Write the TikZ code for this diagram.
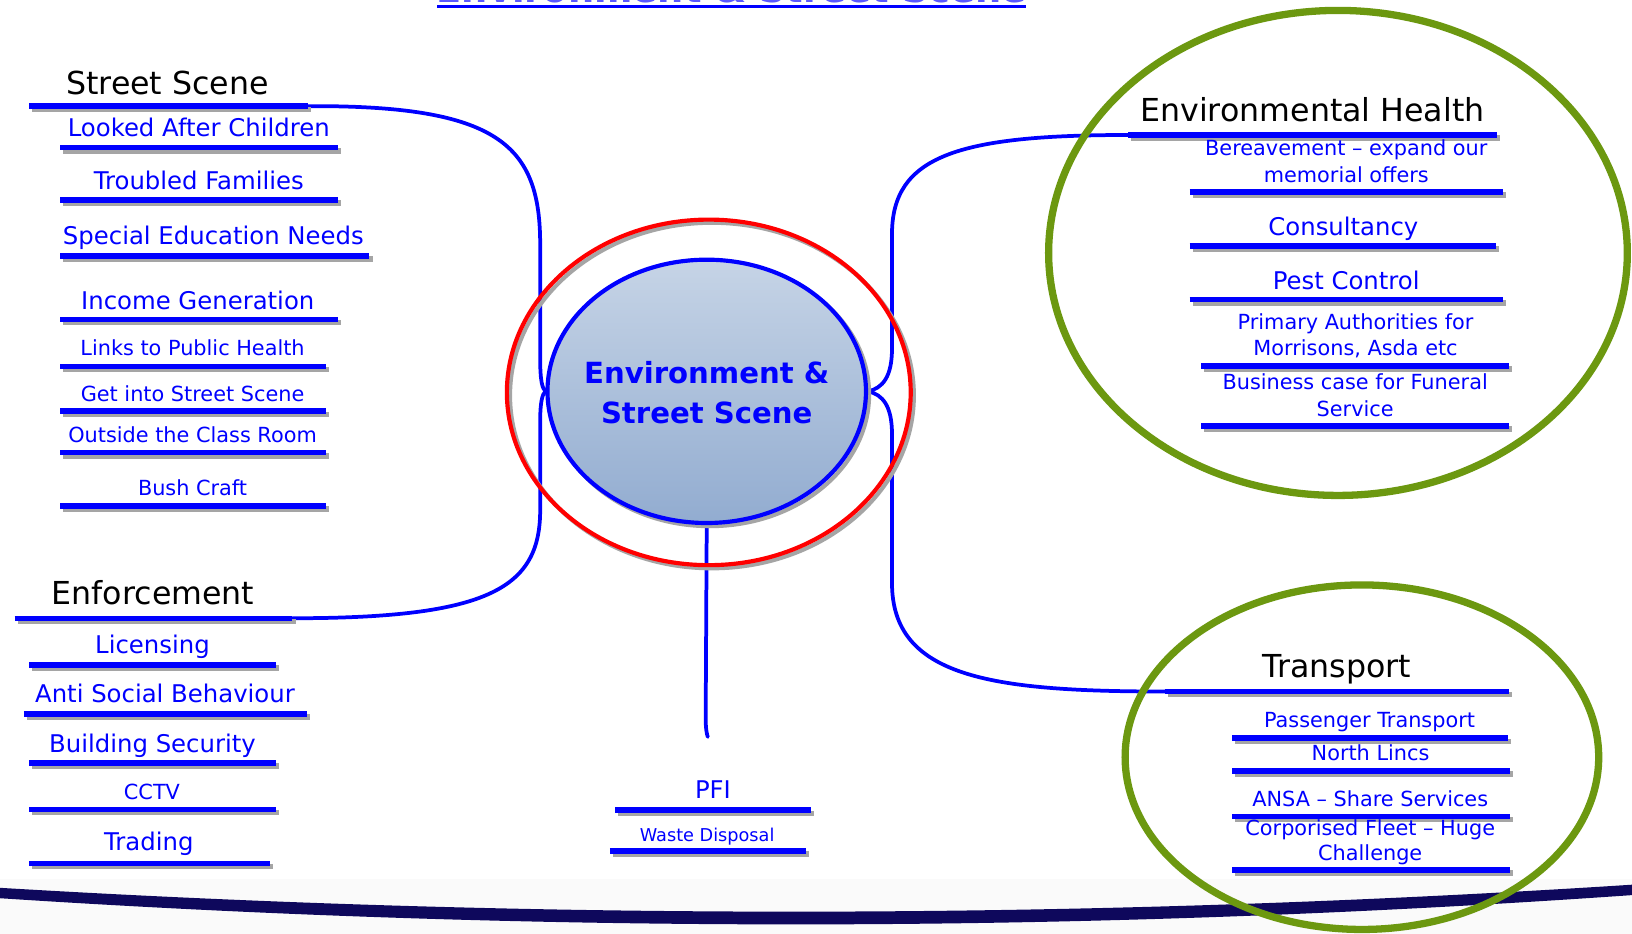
\documentclass[tikz,border=0pt]{standalone}
\usepackage{fontspec}
\setmainfont{DejaVu Sans}
\usetikzlibrary{shapes.geometric,backgrounds}
\definecolor{ublue}{RGB}{0,0,255}
\definecolor{ringgreen}{RGB}{108,152,16}
\definecolor{swooshc}{RGB}{14,8,92}
\definecolor{shgray}{RGB}{165,165,165}
\definecolor{ellTop}{RGB}{198,212,230}
\definecolor{ellBot}{RGB}{146,172,208}
\tikzset{
  hdr/.style={anchor=base, font=\fontsize{15.2}{18}\selectfont, text=black, inner sep=0pt},
  itm/.style={anchor=base, font=\fontsize{11.7}{14}\selectfont, text=ublue, inner sep=0pt},
  sml/.style={anchor=base, font=\fontsize{10}{12}\selectfont, text=ublue, inner sep=0pt},
  tiny/.style={anchor=base, font=\fontsize{8.5}{10}\selectfont, text=ublue, inner sep=0pt},
  ul/.style={line width=2.6pt, ublue},
  ulsh/.style={line width=2.6pt, shgray},
  conn/.style={line width=1.8pt, ublue, line cap=round},
  ring/.style={line width=3.5pt, ringgreen},
}
\newcommand{\ULine}[3]{\draw[ulsh] (#1+3,#3+3) -- (#2+3,#3+3); \draw[ul] (#1,#3) -- (#2,#3);}
\begin{document}
\begin{tikzpicture}[x=0.5pt,y=-0.5pt]
\useasboundingbox (0,0) rectangle (1568,897);
% title (clipped at top edge)
\node[anchor=base, font=\bfseries\fontsize{17.7}{20}\selectfont, text=ublue!65, inner sep=0pt] (title) at (703,2.5) {Environment \& Street Scene};
\draw[line width=1.6pt, ublue] (420,6) -- (986,6);

% centre
\node[ellipse, draw=ublue, line width=2pt, top color=ellTop, bottom color=ellBot, minimum width=153pt, minimum height=126.5pt, inner sep=0pt] (c) at (679,376) {};
\node[font=\bfseries\fontsize{14}{19}\selectfont, text=ublue, align=center] (ct) at (679,377) {Environment \&\\Street Scene};

% Street Scene
\node[hdr] (ss) at (161,91) {Street Scene};
\ULine{28}{296}{102}
\coordinate (ssR) at (296,102);
\node[itm] (lac) at (191,131) {Looked After Children}; \ULine{58}{325}{142}
\node[itm] (tf) at (191,182) {Troubled Families}; \ULine{58}{325}{192}
\node[itm] (sen) at (205,235) {Special Education Needs}; \ULine{58}{355}{246}
\node[itm] (ig) at (190,297) {Income Generation}; \ULine{58}{325}{307}
\node[sml] (lph) at (185,342) {Links to Public Health}; \ULine{58}{313}{352}
\node[sml] (gss) at (185,386) {Get into Street Scene}; \ULine{58}{313}{395}
\node[sml] (ocr) at (185,425) {Outside the Class Room}; \ULine{58}{313}{435}
\node[sml] (bc) at (185,476) {Bush Craft}; \ULine{58}{313}{486}

% Enforcement
\node[hdr] (en) at (147,581) {Enforcement};
\ULine{14}{281}{594}
\coordinate (enR) at (281,594);
\node[itm] (lic) at (146.5,628) {Licensing}; \ULine{28}{265}{639}
\node[itm] (asb) at (158.5,675) {Anti Social Behaviour}; \ULine{23}{295}{686}
\node[itm] (bs) at (146.5,723) {Building Security}; \ULine{28}{265}{733}
\node[sml] (cctv) at (146,768.6) {CCTV}; \ULine{28}{265}{777.6}
\node[itm] (tr) at (143,817) {Trading}; \ULine{28}{259}{829.5}

% PFI
\node[itm] (pfi) at (685,767) {PFI}; \ULine{591}{779}{778.4}
\node[tiny] (wd) at (679.4,808.7) {Waste Disposal}; \ULine{586}{774}{817.5}
\coordinate (stemEnd) at (680,708);

% Environmental Health
\node[hdr] (eh) at (1261,117) {Environmental Health};
\ULine{1084}{1438}{129.7}
\coordinate (ehL) at (1084,129.7);
\node[sml] (ber1) at (1293.5,149.6) {Bereavement – expand our};
\node[sml] (ber2) at (1293.5,175.2) {memorial offers};
\ULine{1143}{1444}{184.3}
\node[itm] (cons) at (1290.7,226.4) {Consultancy}; \ULine{1143}{1437}{236.2}
\node[itm] (pest) at (1293.4,278) {Pest Control}; \ULine{1143}{1444}{288}
\node[sml] (pa1) at (1302.4,316.4) {Primary Authorities for};
\node[sml] (pa2) at (1302.4,342) {Morrisons, Asda etc};
\ULine{1154}{1450}{351.5}
\node[sml] (bf1) at (1302,374) {Business case for Funeral};
\node[sml] (bf2) at (1302,399.7) {Service};
\ULine{1154}{1450}{409.1}

% Transport
\node[hdr] (tp) at (1284.3,650.8) {Transport};
\ULine{1119}{1450}{664.4}
\coordinate (tL) at (1119,664.4);
\node[sml] (pt) at (1315.8,698.8) {Passenger Transport}; \ULine{1184}{1449}{709.2}
\node[sml] (nl) at (1316.8,730.9) {North Lincs}; \ULine{1184}{1451}{740.6}
\node[sml] (ansa) at (1316.5,775) {ANSA – Share Services}; \ULine{1184}{1451}{784.5}
\node[sml] (cf1) at (1316.5,803.2) {Corporised Fleet – Huge};
\node[sml] (cf2) at (1316.5,827) {Challenge};
\ULine{1184}{1451}{835.7}

% green rings
\draw[ring] (1285.5,243) ellipse [x radius=139pt, y radius=116.5pt];
\draw[ring] (1308.5,727.5) ellipse [x radius=113.75pt, y radius=82.75pt];

\begin{pgfonlayer}{background}
  \fill[white] (0,0) rectangle (1568,897);
  \fill[gray!4] (0,845) rectangle (1568,897);
  \fill[swooshc] (0,853) .. controls (520,884) and (1040,884) .. (1568,850) -- (1568,860) .. controls (1040,897) and (520,897) .. (0,863) -- cycle;
  % connectors
  \draw[conn] (ssR) .. controls (480,101) and (519,140) .. (519,235) -- (519,345) .. controls (519,366) and (521,373) .. (c.west);
  \draw[conn] (enR) .. controls (470,594) and (519,565) .. (519,490) -- (519,405) .. controls (519,386) and (521,379) .. (c.west);
  \draw[conn] (c.east) .. controls (848,373) and (857,362) .. (857,335) -- (857,225) .. controls (857,150) and (920,129.7) .. (ehL);
  \draw[conn] (c.east) .. controls (848,379) and (857,390) .. (857,417) -- (857,560) .. controls (857,650) and (950,664.4) .. (tL);
  \draw[conn] (c.south) -- (678,690) .. controls (678,700) and (679,705) .. (stemEnd);
  % red ring and shadows
  \draw[line width=2pt, shgray] (684,380) ellipse [x radius=97pt, y radius=83pt];
  \draw[line width=2pt, red] (681,377) ellipse [x radius=97pt, y radius=83pt];
  \draw[line width=2pt, shgray] (682,379) ellipse [x radius=76.5pt, y radius=63.25pt];
\end{pgfonlayer}
\end{tikzpicture}
\end{document}
